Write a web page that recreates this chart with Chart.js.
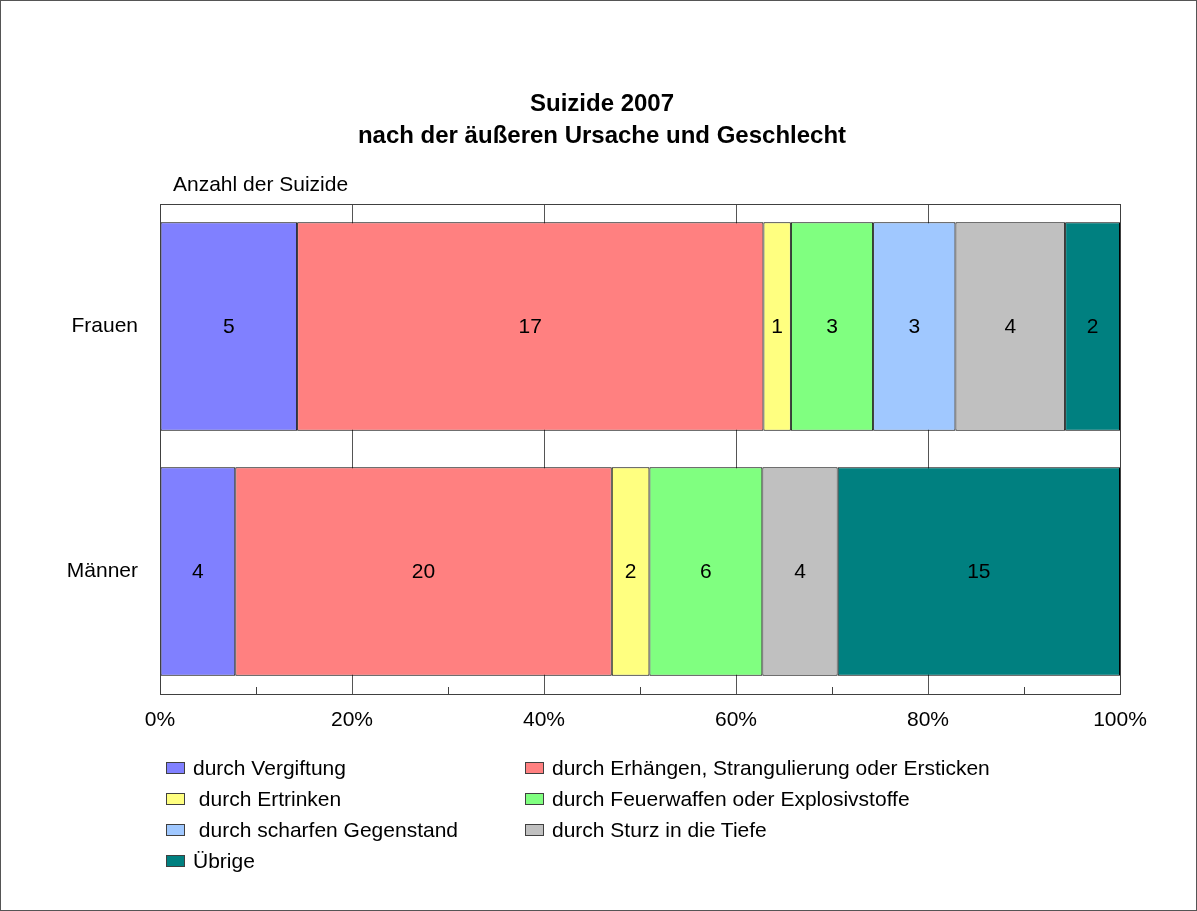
<!DOCTYPE html>
<html>
<head>
<meta charset="utf-8">
<script src="https://cdn.jsdelivr.net/npm/chart.js@4"></script>
<style>
  body { margin: 0; background: #fff; font-family: "Liberation Sans", Arial, sans-serif; }
  #wrap { position: relative; width: 1197px; height: 911px; }
  #frame { position: absolute; left: 0; top: 0; width: 1195px; height: 909px; border: 1px solid #555; pointer-events: none; }
  canvas { position: absolute; left: 0; top: 0; }
  #legend { position: absolute; left: 166px; top: 752px; display: grid; grid-template-columns: 359px 480px; row-gap: 0; }
  .item { display: flex; align-items: center; height: 31px; font-size: 21px; color: #000; white-space: pre; }
  .box { width: 17px; height: 10px; border: 1px solid #404040; margin-right: 8px; }
</style>
</head>
<body>
<div id="wrap">
  <canvas id="chart" width="1197" height="911"></canvas>
  <div id="legend"></div>
  <div id="frame"></div>
</div>
<script>
const titleLines = ["Suizide 2007", "nach der äußeren Ursache und Geschlecht"];
const categories = ["Frauen", "Männer"];
const seriesNames = [
  "durch Vergiftung",
  "durch Erhängen, Strangulierung oder Ersticken",
  " durch Ertrinken",
  "durch Feuerwaffen oder Explosivstoffe",
  " durch scharfen Gegenstand",
  "durch Sturz in die Tiefe",
  "Übrige"
];
const vergiftung = [5, 4];
const erhaengen = [17, 20];
const ertrinken = [1, 2];
const feuerwaffen = [3, 6];
const scharf = [3, 0];
const sturz = [4, 4];
const uebrige = [2, 15];
const colors = ["#8080FF", "#FF8080", "#FFFF80", "#80FF80", "#A0C8FF", "#C0C0C0", "#008080"];
const xTicks = [0, 20, 40, 60, 80, 100];
const minorTicks = [10, 30, 50, 70, 90];

const counts = [vergiftung, erhaengen, ertrinken, feuerwaffen, scharf, sturz, uebrige];
const totals = categories.map((c, i) => counts.reduce((s, arr) => s + arr[i], 0));

const FONT = "'Liberation Sans', Arial, sans-serif";

const extras = {
  id: "extras",
  afterDatasetsDraw(chart) {
    const ctx = chart.ctx;
    const area = chart.chartArea;
    const xs = chart.scales.x;
    ctx.save();
    // title
    ctx.font = "bold 24px " + FONT;
    ctx.fillStyle = "#000";
    ctx.textAlign = "center";
    ctx.textBaseline = "middle";
    titleLines.forEach((t, i) => ctx.fillText(t, 602, 104 + i * 32));
    // value labels
    ctx.font = "21px " + FONT;
    chart.data.datasets.forEach((ds, di) => {
      chart.getDatasetMeta(di).data.forEach((el, i) => {
        const n = ds.counts[i];
        if (!n) return;
        ctx.fillText(String(n), (el.x + el.base) / 2, el.y + 1);
      });
    });
    // minor ticks
    ctx.strokeStyle = "#404040";
    ctx.lineWidth = 1;
    minorTicks.forEach(v => {
      const x = Math.round(xs.getPixelForValue(v)) + 0.5;
      ctx.beginPath();
      ctx.moveTo(x, area.bottom);
      ctx.lineTo(x, area.bottom - 7);
      ctx.stroke();
    });
    // frame
    ctx.strokeRect(Math.round(area.left) + 0.5, Math.round(area.top) + 0.5,
      Math.round(area.right - area.left), Math.round(area.bottom - area.top));
    // axis caption
    ctx.textAlign = "left";
    ctx.fillText("Anzahl der Suizide", area.left + 13, area.top - 19);
    ctx.restore();
  }
};

new Chart(document.getElementById("chart"), {
  type: "bar",
  data: {
    labels: categories,
    datasets: counts.map((arr, k) => ({
      label: seriesNames[k],
      counts: arr,
      data: arr.map((v, i) => v / totals[i] * 100),
      backgroundColor: colors[k],
      borderColor: "#000",
      borderWidth: 1,
      borderSkipped: false,
      categoryPercentage: 1,
      barPercentage: 0.852
    }))
  },
  options: {
    indexAxis: "y",
    responsive: false,
    animation: false,
    layout: { padding: { top: 204, right: 77, bottom: 0, left: 0 } },
    plugins: {
      legend: { display: false },
      tooltip: { enabled: false },
      title: { display: false }
    },
    scales: {
      x: {
        stacked: true,
        min: 0,
        max: 100,
        afterBuildTicks: s => { s.ticks = xTicks.map(v => ({ value: v })); },
        afterFit: s => { s.height = 911 - 694; },
        grid: { color: "#555", drawTicks: false },
        border: { display: false },
        ticks: {
          color: "#000",
          padding: 14,
          font: { family: FONT, size: 21 },
          callback: v => v + "%"
        }
      },
      y: {
        stacked: true,
        afterFit: s => { s.width = 160; },
        grid: { display: false, drawTicks: false },
        border: { display: false },
        ticks: { color: "#000", padding: 22, font: { family: FONT, size: 21 } }
      }
    }
  },
  plugins: [extras]
});

const legend = document.getElementById("legend");
seriesNames.forEach((name, k) => {
  const item = document.createElement("div");
  item.className = "item";
  const box = document.createElement("span");
  box.className = "box";
  box.style.background = colors[k];
  item.appendChild(box);
  item.appendChild(document.createTextNode(name));
  legend.appendChild(item);
});
</script>
</body>
</html>
